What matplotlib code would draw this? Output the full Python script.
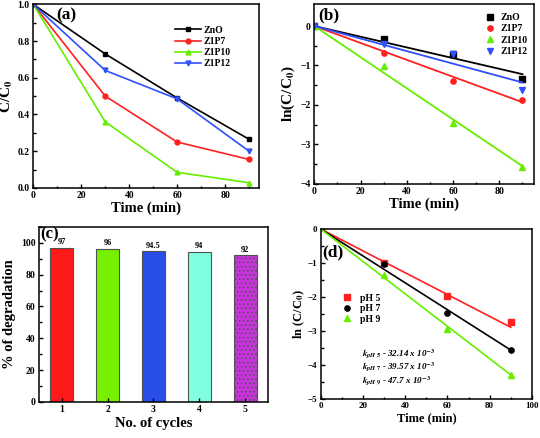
import matplotlib
matplotlib.use("Agg")
import matplotlib.pyplot as plt
import numpy as np

plt.rcParams['font.family'] = ['Liberation Serif', 'DejaVu Serif']
plt.rcParams['font.weight'] = 'bold'
plt.rcParams['axes.labelweight'] = 'bold'
plt.rcParams['mathtext.fontset'] = 'stix'
plt.rcParams['hatch.color'] = '#8a1a9a'
plt.rcParams['hatch.linewidth'] = 0.6

# ---- data ----
time = [0, 30, 60, 90]
samples = ['ZnO', 'Z1P7', 'Z1P10', 'Z1P12']
c_ratio_zno = [1.0, 0.73, 0.49, 0.265]
c_ratio_z1p7 = [1.0, 0.50, 0.25, 0.155]
c_ratio_z1p10 = [1.0, 0.36, 0.085, 0.028]
c_ratio_z1p12 = [1.0, 0.64, 0.485, 0.20]

ln_zno = [0, -0.32, -0.72, -1.33]
ln_z1p7 = [0, -0.69, -1.39, -1.87]
ln_z1p10 = [0, -1.02, -2.46, -3.56]
ln_z1p12 = [0, -0.46, -0.72, -1.61]
fit_time = [0, 90]
fit_zno = [0, -1.22]
fit_z1p7 = [0, -1.93]
fit_z1p10 = [0, -3.55]
fit_z1p12 = [0, -1.43]

cycles = [1, 2, 3, 4, 5]
degradation = [97, 96, 94.5, 94, 92]
degradation_labels = ['97', '96', '94.5', '94', '92']

ph_labels = ['pH 5', 'pH 7', 'pH 9']
ph_time = [30, 60, 90]
ln_ph5 = [-1.0, -1.98, -2.72]
ln_ph7 = [-1.02, -2.46, -3.56]
ln_ph9 = [-1.35, -2.95, -4.28]
ph_fit_time = [0, 90]
fit_ph5 = [0, -2.89]
fit_ph7 = [0, -3.56]
fit_ph9 = [0, -4.29]
k_texts = [r'$k_{pH\ 5}$ - 32.14 x 10$^{-3}$',
           r'$k_{pH\ 7}$ - 39.57 x 10$^{-3}$',
           r'$k_{pH\ 9}$ - 47.7 x 10$^{-3}$']

colors = ['#000000', '#ff2020', '#66ee00', '#2e50ff']
markers = ['s', 'o', '^', 'v']
bar_colors = ['#ff1a1a', '#77f000', '#2a4fe8', '#80ffe0', '#c535d8']

fig = plt.figure(figsize=(5.4, 4.38), dpi=100)

def style(ax, tick_fs=7):
    ax.tick_params(direction='in', which='both', labelsize=tick_fs, width=1, pad=2.5)
    ax.tick_params(which='major', length=3)
    ax.tick_params(which='minor', length=1.8)
    for s in ax.spines.values():
        s.set_linewidth(1.1)
    for lab in ax.get_xticklabels() + ax.get_yticklabels():
        lab.set_fontweight('bold')

# ---- (a) ----
axa = fig.add_axes([0.0617, 0.571, 0.4173, 0.419])
series_a = [c_ratio_zno, c_ratio_z1p7, c_ratio_z1p10, c_ratio_z1p12]
for name, vals, c, m in zip(samples, series_a, colors, markers):
    axa.plot(time, vals, color=c, marker=m, markersize=3.5, lw=1.2, label=name)
axa.set_xlim(0, 94)
axa.set_ylim(0, 1.0)
axa.set_xticks([0, 20, 40, 60, 80])
axa.set_xticks([10, 30, 50, 70, 90], minor=True)
axa.set_yticks([0, 0.2, 0.4, 0.6, 0.8, 1.0])
axa.set_yticks([0.1, 0.3, 0.5, 0.7, 0.9], minor=True)
axa.set_yticklabels(['0.0', '0.2', '0.4', '0.6', '0.8', '1.0'])
axa.set_xlabel('Time (min)', fontsize=10.5, labelpad=1)
axa.set_ylabel('C/C$_\\mathbf{0}$', fontsize=11)
axa.yaxis.set_label_coords(-0.082, 0.5)
axa.text(9.5, 0.94, '(a)', fontsize=12.5, fontweight='bold', va='center')
axa.legend(loc='upper left', bbox_to_anchor=(0.6, 0.92), frameon=False,
           fontsize=7, handlelength=2.6, labelspacing=0.22, borderpad=0.2,
           handletextpad=0.3)
style(axa)

# ---- (b) ----
axb = fig.add_axes([0.582, 0.580, 0.407, 0.412])
series_b = [ln_zno, ln_z1p7, ln_z1p10, ln_z1p12]
fits_b = [fit_zno, fit_z1p7, fit_z1p10, fit_z1p12]
for name, vals, fit, c, m in zip(samples, series_b, fits_b, colors, markers):
    axb.plot(time, vals, ls='none', color=c, marker=m, markersize=3.8, label=name)
    axb.plot(fit_time, fit, color=c, lw=1.3)
axb.set_xlim(0, 95)
axb.set_ylim(-4, 0.57)
axb.set_xticks([0, 20, 40, 60, 80])
axb.set_xticks([10, 30, 50, 70, 90], minor=True)
axb.set_yticks([-4, -3, -2, -1, 0])
axb.set_yticks([-3.5, -2.5, -1.5, -0.5], minor=True)
axb.set_xlabel('Time (min)', fontsize=10.5, labelpad=1)
axb.set_ylabel('ln(C/C$_\\mathbf{0}$)', fontsize=11)
axb.yaxis.set_label_coords(-0.079, 0.5)
axb.text(1.7, 0.28, '(b)', fontsize=12.5, fontweight='bold', va='center')
axb.legend(loc='upper right', bbox_to_anchor=(1.0, 0.985), frameon=False,
           fontsize=7, handlelength=1.0, labelspacing=0.25, borderpad=0.2,
           handletextpad=0.5)
style(axb)

# ---- (c) ----
axc = fig.add_axes([0.0722, 0.0822, 0.424, 0.400])
bars = axc.bar(cycles, degradation, width=0.5, color=bar_colors,
               edgecolor='#505050', linewidth=0.8)
bars[4].set_hatch('....')
for x, v, t in zip(cycles, degradation, degradation_labels):
    axc.text(x, v + 1.2, t, ha='center', va='bottom', fontsize=6, fontweight='bold')
axc.set_xlim(0.5, 5.5)
axc.set_ylim(0, 110)
axc.set_xticks(cycles)
axc.set_yticks([0, 20, 40, 60, 80, 100])
axc.set_yticks([10, 30, 50, 70, 90, 110], minor=True)
axc.set_xlabel('No. of cycles', fontsize=10.5, labelpad=2)
axc.set_ylabel('% of degradation', fontsize=10.5)
axc.yaxis.set_label_coords(-0.1, 0.5)
axc.text(0.52, 105, '(c)', fontsize=12, fontweight='bold', va='center')
style(axc)

# ---- (d) ----
axd = fig.add_axes([0.594, 0.089, 0.391, 0.388])
series_d = [ln_ph5, ln_ph7, ln_ph9]
fits_d = [fit_ph5, fit_ph7, fit_ph9]
d_colors = ['#ff2020', '#000000', '#66ee00']
d_markers = ['s', 'o', '^']
for name, vals, fit, c, m in zip(ph_labels, series_d, fits_d, d_colors, d_markers):
    axd.plot(ph_time, vals, ls='none', color=c, marker=m, markersize=3.8, label=name)
    axd.plot(ph_fit_time, fit, color=c, lw=1.2)
axd.set_xlim(0, 100)
axd.set_ylim(-5, 0)
axd.set_xticks([0, 20, 40, 60, 80, 100])
axd.set_xticks([10, 30, 50, 70, 90], minor=True)
axd.set_yticks([-5, -4, -3, -2, -1, 0])
axd.set_yticks([-4.5, -3.5, -2.5, -1.5, -0.5], minor=True)
axd.set_xlabel('Time (min)', fontsize=9, labelpad=1)
axd.set_ylabel('ln (C/C$_\\mathbf{0}$)', fontsize=9)
axd.yaxis.set_label_coords(-0.066, 0.5)
axd.text(0.5, -0.7, '(d)', fontsize=12.5, fontweight='bold', va='center')
axd.legend(loc='upper left', bbox_to_anchor=(0.07, 0.66), frameon=False,
           fontsize=7, handlelength=1.0, labelspacing=0.15, borderpad=0.2,
           handletextpad=0.8)
for t, y in zip(k_texts, [-3.68, -4.06, -4.48]):
    axd.text(19.5, y, t, fontsize=6.5, fontstyle='italic', va='center')
style(axd, tick_fs=6.5)

fig.savefig('out.png', dpi=100)
